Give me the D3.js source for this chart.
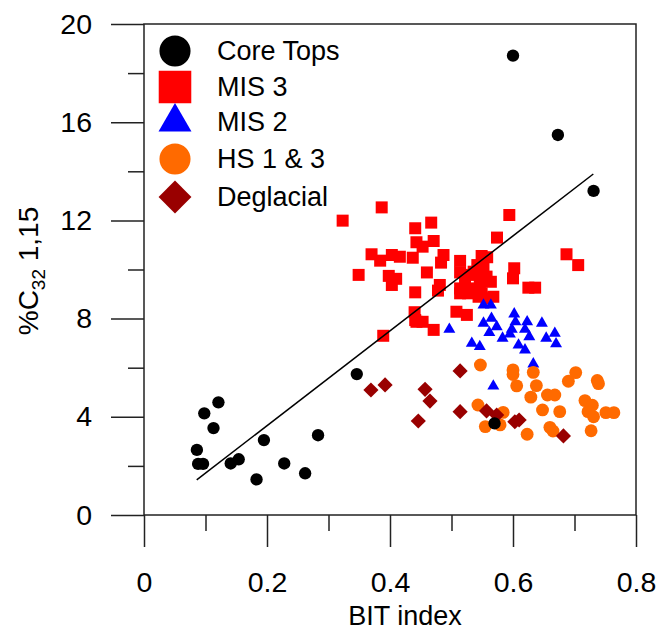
<!DOCTYPE html>
<html><head><meta charset="utf-8">
<script src="https://cdn.jsdelivr.net/npm/d3@7"></script>
<style>body{margin:0;background:#fff}svg{display:block}text{font-family:"Liberation Sans",Arial,sans-serif;fill:#000}</style>
</head><body><svg id="c" width="659" height="631"></svg>
<script>
const coreTops = [[0.600,18.71],[0.673,15.48],[0.731,13.2],[0.346,5.74],[0.570,3.73],[0.121,4.59],[0.098,4.14],[0.113,3.54],[0.086,2.65],[0.088,2.08],[0.096,2.08],[0.141,2.1],[0.154,2.27],[0.195,3.05],[0.183,1.45],[0.228,2.1],[0.262,1.7],[0.283,3.25]];
const mis3 = [[0.3865,12.53],[0.323,11.99],[0.467,11.91],[0.441,11.68],[0.443,11.11],[0.471,11.16],[0.453,10.93],[0.370,10.62],[0.384,10.36],[0.403,10.59],[0.416,10.52],[0.437,10.48],[0.487,10.59],[0.483,10.28],[0.349,9.78],[0.398,9.74],[0.410,9.62],[0.403,9.37],[0.460,9.88],[0.441,9.07],[0.481,9.37],[0.478,9.14],[0.440,8.26],[0.443,7.87],[0.453,7.87],[0.471,7.54],[0.389,7.30],[0.441,7.94],
[0.594,12.22],[0.574,11.30],[0.687,10.62],[0.706,10.18],[0.602,10.05],[0.600,9.64],[0.625,9.26],[0.636,9.26],[0.514,10.35],[0.549,10.55],[0.558,10.5],[0.542,10.18],[0.552,10.05],[0.536,9.91],[0.551,9.85],[0.533,9.78],[0.557,9.71],[0.564,9.50],[0.514,9.88],[0.522,9.44],[0.514,9.23],[0.538,9.23],[0.546,9.44],[0.527,9.03],[0.514,9.03],[0.544,8.89],[0.549,9.03],[0.568,8.89],[0.557,8.83],[0.508,8.28],[0.525,8.15]];
const mis2 = [[0.552,8.55],[0.564,8.55],[0.4965,7.56],[0.552,7.81],[0.565,8.01],[0.5735,7.67],[0.5615,7.43],[0.602,8.19],[0.604,7.87],[0.598,7.56],[0.595,7.37],[0.583,7.2],[0.623,7.87],[0.6195,7.56],[0.6265,7.26],[0.647,7.81],[0.654,7.2],[0.668,7.4],[0.670,6.97],[0.533,6.99],[0.546,6.86],[0.609,6.92],[0.6195,6.72],[0.633,6.15],[0.568,5.25]];
const hs13 = [[0.547,6.11],[0.600,5.91],[0.600,5.72],[0.633,5.81],[0.702,5.80],[0.690,5.45],[0.737,5.48],[0.739,5.35],[0.606,5.26],[0.638,5.27],[0.629,4.80],[0.656,4.89],[0.668,4.89],[0.717,4.66],[0.729,4.47],[0.722,4.21],[0.731,4.00],[0.751,4.17],[0.764,4.17],[0.648,4.28],[0.676,4.21],[0.543,4.48],[0.584,4.18],[0.555,3.60],[0.579,3.67],[0.623,3.29],[0.660,3.57],[0.665,3.42],[0.727,3.43]];
const deglacial = [[0.369,5.09],[0.392,5.3],[0.457,5.12],[0.465,4.64],[0.446,3.83],[0.514,5.87],[0.514,4.21],[0.557,4.24],[0.5735,4.07],[0.603,3.8],[0.610,3.87],[0.682,3.22]];
const fitLine = [[0.0857,1.43],[0.7306,13.89]];
const xMajor = [0,0.2,0.4,0.6,0.8], xMinor = [0.1,0.3,0.5,0.7];
const yMajor = [0,4,8,12,16,20], yMinor = [2,6,10,14,18];
const legendItems = ["Core Tops","MIS 3","MIS 2","HS 1 & 3","Deglacial"];

const svg = d3.select("#c");
const x = d3.scaleLinear().domain([0,0.8]).range([144,636]);
const y = d3.scaleLinear().domain([0,20]).range([515,24]);
const fs = 28.5;

svg.append("rect").attr("x",x(0)).attr("y",y(20)).attr("width",x(0.8)-x(0)).attr("height",y(0)-y(20))
  .attr("fill","none").attr("stroke","#222").attr("stroke-width",1.5);

function styleAxis(g){g.select(".domain").remove();g.selectAll("line").attr("stroke","#222").attr("stroke-width",1.5);g.selectAll("text").attr("font-size",fs).attr("font-family",'"Liberation Sans",Arial,sans-serif');}
svg.append("g").attr("transform",`translate(0,${y(0)})`).call(d3.axisBottom(x).tickValues(xMajor).tickSize(32).tickPadding(25).tickFormat(d=>d===0?"0":d3.format(".1f")(d))).call(styleAxis);
svg.append("g").attr("transform",`translate(0,${y(0)})`).call(d3.axisBottom(x).tickValues(xMinor).tickSize(16).tickFormat("")).call(styleAxis);
svg.append("g").attr("transform",`translate(${x(0)},0)`).call(d3.axisLeft(y).tickValues(yMajor).tickSize(33).tickPadding(19)).call(styleAxis);
svg.append("g").attr("transform",`translate(${x(0)},0)`).call(d3.axisLeft(y).tickValues(yMinor).tickSize(16).tickFormat("")).call(styleAxis);

svg.append("text").attr("x",405).attr("y",625).attr("text-anchor","middle").attr("font-size",27).text("BIT index");
const yt = svg.append("text").attr("transform","translate(38,271) rotate(-90)").attr("text-anchor","middle").attr("font-size",28);
yt.append("tspan").text("%C");
yt.append("tspan").attr("font-size",19).attr("dy",7).text("32");
yt.append("tspan").attr("dy",-7).text(" 1,15");

const sym = (type,size)=>d3.symbol().type(type).size(size)();
function plot(data,path,fill,rot){
  svg.append("g").selectAll("path").data(data).join("path")
    .attr("d",path).attr("fill",fill)
    .attr("transform",d=>`translate(${x(d[0])},${y(d[1])})${rot?" rotate(45)":""}`);
}
plot(mis3, sym(d3.symbolSquare,144), "#ff0000");
plot(mis2, sym(d3.symbolTriangle,62), "#0000ff");
plot(hs13, sym(d3.symbolCircle,130), "#ff6a00");
plot(deglacial, sym(d3.symbolSquare,115), "#990000", true);
plot(coreTops, sym(d3.symbolCircle,120), "#000000");

svg.append("path").datum(fitLine).attr("d",d3.line().x(d=>x(d[0])).y(d=>y(d[1])))
  .attr("stroke","#000").attr("stroke-width",1.5).attr("fill","none");

const lg = svg.append("g");
const legRows = [51,87,122,159,197];
const legMarks = [
  [sym(d3.symbolCircle,760),"#000",false],
  [sym(d3.symbolSquare,1060),"#ff0000",false],
  [sym(d3.symbolTriangle,470),"#0000ff",false],
  [sym(d3.symbolCircle,760),"#ff6a00",false],
  [sym(d3.symbolSquare,540),"#990000",true]
];
legendItems.forEach((t,i)=>{
  lg.append("path").attr("d",legMarks[i][0]).attr("fill",legMarks[i][1])
    .attr("transform",`translate(175,${legRows[i]})${legMarks[i][2]?" rotate(45)":""}`);
  lg.append("text").attr("x",217).attr("y",legRows[i]+9).attr("font-size",27).text(t);
});
</script></body></html>
